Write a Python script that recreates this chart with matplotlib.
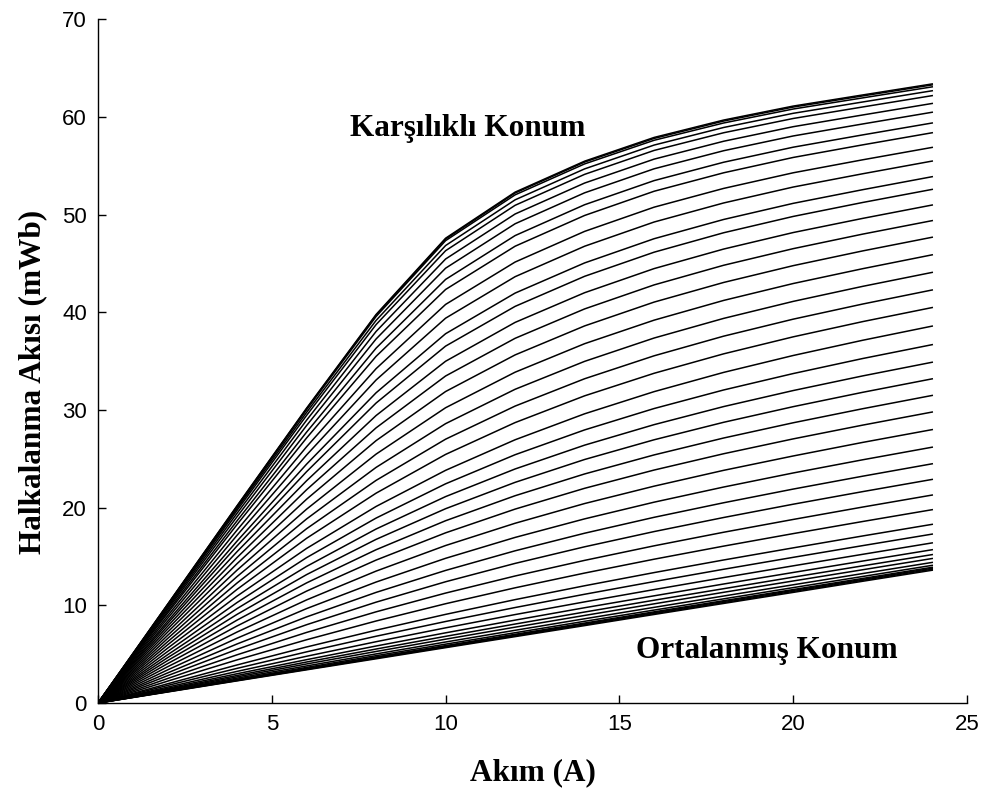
import matplotlib
matplotlib.use('Agg')
import matplotlib.pyplot as plt

# ==================== veri ====================
akim = [0, 2, 4, 6, 8, 10, 12, 14, 16, 18, 20, 22, 24]

# halkalanma akisi (mWb), karsilikli konumdan ortalanmis konuma
aki = [
    [0, 10.10, 20.20, 30.19, 39.79, 47.60, 52.32, 55.49, 57.92, 59.70, 61.13, 62.27, 63.40],
    [0, 10.08, 20.16, 30.14, 39.72, 47.51, 52.23, 55.40, 57.82, 59.60, 61.03, 62.17, 63.30],
    [0, 10.04, 20.09, 30.03, 39.58, 47.35, 52.04, 55.21, 57.63, 59.40, 60.83, 61.97, 63.10],
    [0, 9.97, 19.93, 29.76, 39.18, 46.85, 51.53, 54.70, 57.14, 58.94, 60.39, 61.55, 62.70],
    [0, 9.88, 19.73, 29.45, 38.75, 46.32, 50.97, 54.14, 56.59, 58.40, 59.86, 61.04, 62.20],
    [0, 9.73, 19.43, 28.96, 38.05, 45.47, 50.08, 53.25, 55.70, 57.53, 59.02, 60.22, 61.40],
    [0, 9.57, 19.08, 28.41, 37.28, 44.53, 49.08, 52.25, 54.71, 56.56, 58.07, 59.30, 60.50],
    [0, 9.37, 18.66, 27.74, 36.34, 43.38, 47.87, 51.03, 53.50, 55.38, 56.92, 58.18, 59.40],
    [0, 9.19, 18.28, 27.14, 35.50, 42.35, 46.78, 49.93, 52.41, 54.30, 55.87, 57.16, 58.40],
    [0, 8.92, 17.71, 26.24, 34.24, 40.82, 45.16, 48.30, 50.78, 52.70, 54.30, 55.63, 56.90],
    [0, 8.66, 17.18, 25.40, 33.08, 39.41, 43.66, 46.78, 49.26, 51.21, 52.84, 54.20, 55.50],
    [0, 8.37, 16.58, 24.46, 31.77, 37.82, 41.98, 45.07, 47.55, 49.52, 51.17, 52.57, 53.90],
    [0, 8.13, 16.09, 23.69, 30.72, 36.55, 40.62, 43.70, 46.17, 48.16, 49.83, 51.26, 52.60],
    [0, 7.85, 15.50, 22.76, 29.44, 35.00, 38.98, 42.02, 44.49, 46.49, 48.18, 49.63, 51.00],
    [0, 7.56, 14.90, 21.84, 28.18, 33.49, 37.35, 40.36, 42.82, 44.83, 46.53, 48.02, 49.40],
    [0, 7.25, 14.27, 20.87, 26.87, 31.90, 35.65, 38.62, 41.06, 43.07, 44.79, 46.30, 47.70],
    [0, 6.92, 13.61, 19.85, 25.49, 30.24, 33.88, 36.80, 39.21, 41.23, 42.96, 44.48, 45.90],
    [0, 6.60, 12.95, 18.85, 24.13, 28.61, 32.13, 34.99, 37.38, 39.39, 41.13, 42.67, 44.10],
    [0, 6.27, 12.29, 17.85, 22.80, 27.02, 30.41, 33.21, 35.56, 37.57, 39.31, 40.86, 42.30],
    [0, 5.95, 11.64, 16.87, 21.49, 25.46, 28.72, 31.46, 33.77, 35.76, 37.50, 39.06, 40.50],
    [0, 5.61, 10.95, 15.83, 20.13, 23.83, 26.96, 29.62, 31.89, 33.86, 35.59, 37.15, 38.60],
    [0, 5.27, 10.29, 14.89, 18.94, 22.45, 25.43, 27.97, 30.16, 32.06, 33.74, 35.28, 36.70],
    [0, 4.94, 9.67, 13.99, 17.82, 21.14, 23.97, 26.41, 28.51, 30.36, 32.00, 33.50, 34.90],
    [0, 4.64, 9.08, 13.15, 16.76, 19.90, 22.60, 24.94, 26.96, 28.75, 30.35, 31.82, 33.20],
    [0, 4.34, 8.49, 12.30, 15.70, 18.67, 21.23, 23.46, 25.41, 27.14, 28.70, 30.14, 31.50],
    [0, 4.03, 7.89, 11.46, 14.64, 17.43, 19.86, 21.99, 23.86, 25.53, 27.05, 28.46, 29.80],
    [0, 3.71, 7.27, 10.56, 13.51, 16.13, 18.41, 20.43, 22.21, 23.83, 25.30, 26.69, 28.00],
    [0, 3.39, 6.64, 9.67, 12.39, 14.82, 16.96, 18.86, 20.57, 22.12, 23.56, 24.91, 26.20],
    [0, 3.08, 6.05, 8.82, 11.33, 13.58, 15.59, 17.39, 19.02, 20.51, 21.91, 23.23, 24.50],
    [0, 2.80, 5.50, 8.02, 10.33, 12.42, 14.30, 16.00, 17.56, 19.00, 20.36, 21.65, 22.90],
    [0, 2.51, 4.94, 7.23, 9.34, 11.26, 13.01, 14.61, 16.10, 17.49, 18.80, 20.07, 21.30],
    [0, 2.24, 4.42, 6.48, 8.40, 10.17, 11.80, 13.31, 14.73, 16.07, 17.35, 18.59, 19.80],
    [0, 1.97, 3.90, 5.74, 7.46, 9.08, 10.59, 12.01, 13.36, 14.65, 15.89, 17.11, 18.30],
    [0, 1.80, 3.55, 5.24, 6.84, 8.35, 9.78, 11.14, 12.44, 13.70, 14.92, 16.12, 17.30],
    [0, 1.63, 3.24, 4.79, 6.28, 7.70, 9.06, 10.36, 11.62, 12.85, 14.05, 15.23, 16.40],
    [0, 1.51, 3.00, 4.44, 5.84, 7.19, 8.49, 9.76, 10.98, 12.19, 13.37, 14.54, 15.70],
    [0, 1.42, 2.82, 4.20, 5.53, 6.83, 8.09, 9.32, 10.53, 11.71, 12.89, 14.05, 15.20],
    [0, 1.35, 2.68, 4.00, 5.28, 6.54, 7.77, 8.97, 10.16, 11.34, 12.50, 13.65, 14.80],
    [0, 1.28, 2.55, 3.80, 5.03, 6.25, 7.45, 8.63, 9.80, 10.96, 12.11, 13.26, 14.40],
    [0, 1.22, 2.44, 3.65, 4.85, 6.03, 7.20, 8.37, 9.52, 10.67, 11.82, 12.96, 14.10],
    [0, 1.19, 2.37, 3.55, 4.72, 5.88, 7.04, 8.19, 9.34, 10.48, 11.62, 12.76, 13.90],
    [0, 1.17, 2.34, 3.50, 4.66, 5.81, 6.96, 8.11, 9.25, 10.39, 11.53, 12.66, 13.80],
    [0, 1.15, 2.30, 3.45, 4.60, 5.74, 6.88, 8.02, 9.16, 10.29, 11.43, 12.57, 13.70],
    [0, 1.13, 2.27, 3.40, 4.53, 5.67, 6.80, 7.93, 9.07, 10.20, 11.33, 12.47, 13.60],
]

xticks = [0, 5, 10, 15, 20, 25]
yticks = [0, 10, 20, 30, 40, 50, 60, 70]

# ==================== cizim ====================
serif = {'family': 'Liberation Serif', 'weight': 'bold', 'size': 22.5}

fig = plt.figure(figsize=(9.84, 7.98), dpi=100, facecolor='white')
ax = fig.add_axes([0.0996, 0.119, 0.8831, 0.8566])

for seri in aki:
    ax.plot(akim, seri, color='black', lw=1.1)

ax.set_xlim(0, 25)
ax.set_ylim(0, 70)
ax.set_xticks(xticks)
ax.set_yticks(yticks)
ax.spines['top'].set_visible(False)
ax.spines['right'].set_visible(False)
for s in ['left', 'bottom']:
    ax.spines[s].set_linewidth(1.0)
ax.tick_params(direction='in', length=6, width=1.0, pad=8, labelsize=16)
for lab in ax.get_xticklabels() + ax.get_yticklabels():
    lab.set_fontfamily('Liberation Sans')

ax.set_xlabel('Akım (A)', fontdict=serif)
ax.set_ylabel('Halkalanma Akısı (mWb)', fontdict=serif)
ax.xaxis.set_label_coords(0.5, -0.0805)
ax.yaxis.set_label_coords(-0.0587, 0.47)

ax.text(7.25, 58.1, 'Karşılıklı Konum', fontdict=serif, ha='left', va='baseline')
ax.text(15.48, 4.6, 'Ortalanmış Konum', fontdict=serif, ha='left', va='baseline')

fig.savefig('out.png', dpi=100)
